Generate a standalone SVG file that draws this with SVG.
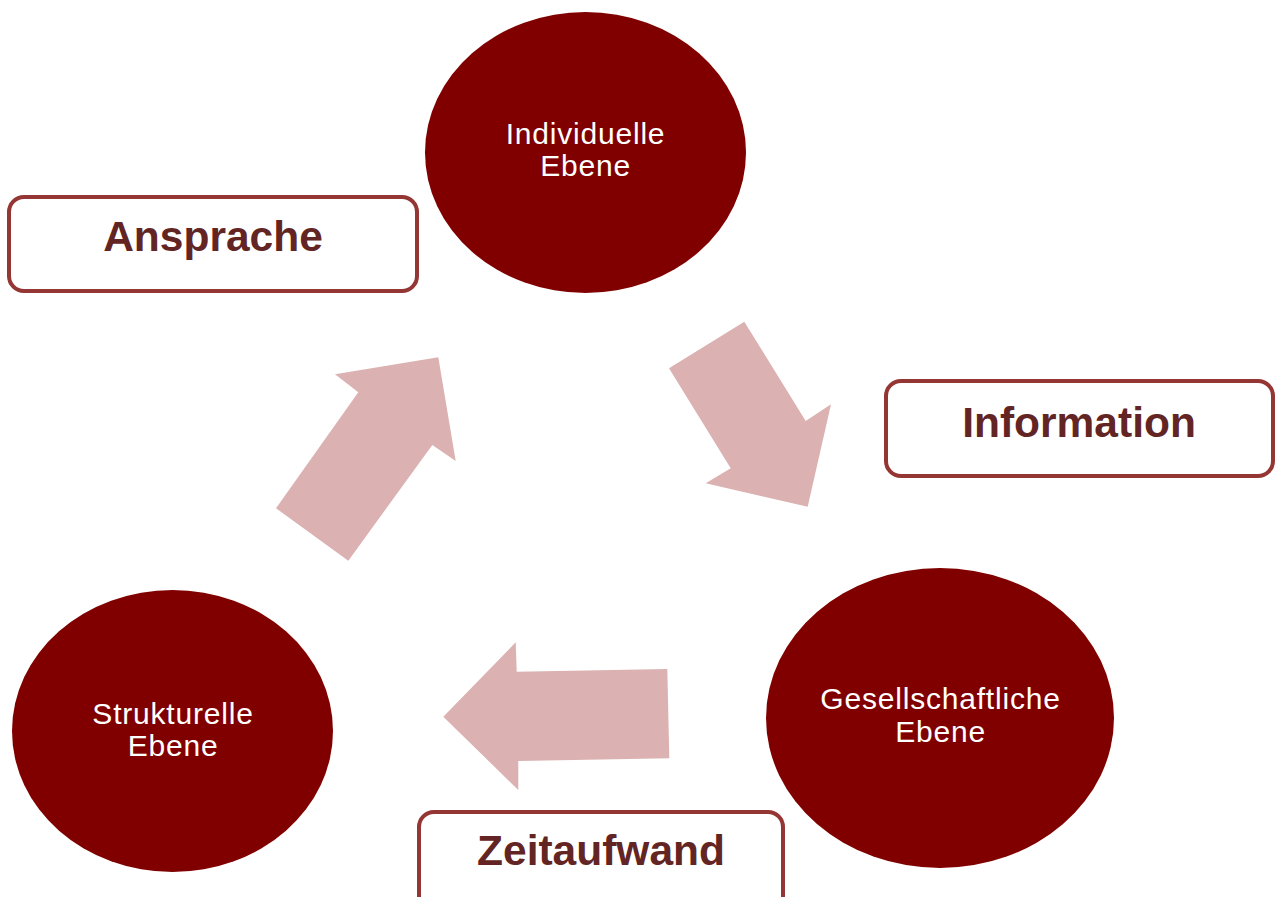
<svg xmlns="http://www.w3.org/2000/svg" width="1279" height="897" viewBox="0 0 1279 897">
<style>
.node{fill:#800000}
.nt{font-family:"Liberation Sans",Arial,sans-serif;font-size:30px;fill:#ffffff;text-anchor:middle;letter-spacing:0.8px}
.box{fill:#ffffff;stroke:#943634;stroke-width:4}
.bt{font-family:"Liberation Sans",Arial,sans-serif;font-size:42.5px;font-weight:bold;fill:#632523;text-anchor:middle}
.arrow{fill:#dbb1b1}
</style>
<rect width="1279" height="897" fill="#ffffff"/>
<g id="connectors">
<polygon class="arrow" points="438.3,357.3 335,374.3 358.3,392.3 276,508.3 348.3,560.7 432.3,445 455.7,461"/>
<polygon class="arrow" points="744.3,321.7 669,368.3 730.7,468.3 705.7,483.3 807.7,506.7 831,404.3 805.7,421"/>
<polygon class="arrow" points="443.3,716.7 515.7,642.3 516.7,671.7 667.3,669 669.3,758.3 518.3,761 518.3,790"/>
</g>
<g id="individuelle">
<ellipse class="node" cx="585.5" cy="152.5" rx="160.5" ry="140.5"/>
<text class="nt" x="585.5" y="143.5">Individuelle</text>
<text class="nt" x="585.5" y="176">Ebene</text>
</g>
<g id="strukturelle">
<ellipse class="node" cx="172.5" cy="731" rx="160.5" ry="141"/>
<text class="nt" x="173" y="723.5">Strukturelle</text>
<text class="nt" x="173" y="756">Ebene</text>
</g>
<g id="gesellschaftliche">
<ellipse class="node" cx="940" cy="718" rx="174" ry="150"/>
<text class="nt" x="940.5" y="708.5">Gesellschaftliche</text>
<text class="nt" x="940.5" y="741.5">Ebene</text>
</g>
<g id="ansprache">
<rect class="box" x="9" y="197" width="408" height="94" rx="15"/>
<text class="bt" x="213" y="251">Ansprache</text>
</g>
<g id="information">
<rect class="box" x="886" y="381" width="387" height="95" rx="15"/>
<text class="bt" x="1079" y="437">Information</text>
</g>
<g id="zeitaufwand">
<rect class="box" x="419" y="812" width="364" height="100" rx="15"/>
<text class="bt" x="601" y="865">Zeitaufwand</text>
</g>
</svg>
